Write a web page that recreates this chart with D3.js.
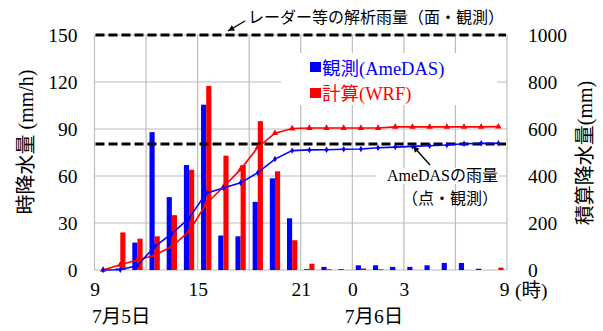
<!DOCTYPE html>
<html>
<head>
<meta charset="utf-8">
<script src="https://cdn.jsdelivr.net/npm/d3@7"></script>
<style>
  body { margin: 0; background: #fff; }
  text { font-family: "Liberation Serif", "Noto Sans CJK JP", serif; }
</style>
</head>
<body>
<svg id="chart" width="603" height="331"></svg>
<script>
// Hourly intervals from 7/5 09:00 to 7/6 09:00 (start hour of each interval)
const hourStart = [9, 10, 11, 12, 13, 14, 15, 16, 17, 18, 19, 20, 21, 22, 23, 0, 1, 2, 3, 4, 5, 6, 7, 8];

// Hourly rainfall (mm/h)
const observedHourly = [0, 1, 17.5, 88, 46.5, 67, 105.5, 22, 21.5, 43.5, 58.5, 33, 0.5, 2, 0.5, 3, 3, 2, 2, 3, 4.5, 4.5, 0.8, 0];
const computedHourly = [0, 24, 20, 21.5, 35, 64, 117.5, 73, 67, 95, 63, 19, 4, 0.5, 0, 1, 0.5, 0, 0, 0, 0, 0, 0, 1.5];

// Accumulated rainfall (mm)
const observedTotal = [0, 1, 19, 100, 155, 220, 327, 349, 371, 414, 472, 508, 511, 512, 514, 515, 520, 523, 526, 529, 532, 537, 539, 539];
const computedTotal = [0, 22, 43, 63, 100, 164, 282, 353, 428, 522, 582, 602, 604, 604, 604, 604, 604, 609, 609, 609, 609, 609, 609, 610];

// Reference totals (mm)
const radarAreaTotal = 1000;
const amedasPointTotal = 536;

// Axis ticks
const leftTicks = [0, 30, 60, 90, 120, 150];
const rightTicks = [0, 200, 400, 600, 800, 1000];
const xTickHours = [0, 6, 12, 15, 18, 24];
const xTickLabels = ["9", "15", "21", "0", "3", "9"];
const gridHours = [3, 6, 9, 12, 15, 18, 21];

const svg = d3.select("#chart");
const L = 94.5, R = 507, T = 35, B = 270;

const x = d3.scaleLinear().domain([0, 24]).range([L, R]);
const band = d3.scaleBand().domain(d3.range(hourStart.length)).range([L, R])
  .paddingInner(0.4).paddingOuter(0.2);
const sub = d3.scaleBand().domain(["obs", "calc"]).range([0, band.bandwidth()]);
const y = d3.scaleLinear().domain([0, 150]).range([B, T]);
const y2 = d3.scaleLinear().domain([0, 1000]).range([B, T]);
const cx = i => band(i) + band.bandwidth() / 2;

const gridColor = "#bcbcbc";

// Gridlines and frame
const grid = svg.append("g");
grid.selectAll("line.h").data(leftTicks.filter(v => v > 0)).join("line")
  .attr("x1", L).attr("x2", R).attr("y1", d => y(d)).attr("y2", d => y(d))
  .attr("stroke", gridColor).attr("stroke-width", 1);
grid.selectAll("line.v").data(gridHours).join("line")
  .attr("x1", d => x(d)).attr("x2", d => x(d)).attr("y1", T).attr("y2", B)
  .attr("stroke", gridColor).attr("stroke-width", 1.2);
grid.append("line").attr("x1", L).attr("x2", L).attr("y1", T).attr("y2", B)
  .attr("stroke", gridColor).attr("stroke-width", 1.2);
grid.append("line").attr("x1", R).attr("x2", R).attr("y1", T).attr("y2", B)
  .attr("stroke", gridColor).attr("stroke-width", 1.2);
grid.append("line").attr("x1", L).attr("x2", R).attr("y1", B).attr("y2", B)
  .attr("stroke", gridColor).attr("stroke-width", 1.2);

// Legend and label backgrounds
svg.append("rect").attr("x", 281).attr("y", 53).attr("width", 216).attr("height", 52).attr("fill", "#fff");
svg.append("rect").attr("x", 376).attr("y", 168).attr("width", 123).attr("height", 16).attr("fill", "#fff");

// Hourly bars
const bars = svg.append("g");
bars.selectAll("rect.obs").data(observedHourly).join("rect")
  .attr("x", (d, i) => band(i) + sub("obs")).attr("width", sub.bandwidth())
  .attr("y", d => y(d)).attr("height", d => B - y(d)).attr("fill", "#0000ff");
bars.selectAll("rect.calc").data(computedHourly).join("rect")
  .attr("x", (d, i) => band(i) + sub("calc")).attr("width", sub.bandwidth())
  .attr("y", d => y(d)).attr("height", d => B - y(d)).attr("fill", "#ff0000");

// Reference total lines
[radarAreaTotal, amedasPointTotal].forEach(v => {
  svg.append("line").attr("x1", L + 1).attr("x2", R - 1)
    .attr("y1", y2(v)).attr("y2", y2(v))
    .attr("stroke", "#000").attr("stroke-width", 3).attr("stroke-dasharray", "9,4");
});

// Accumulated rainfall lines
const line = d3.line().x((d, i) => cx(i)).y(d => y2(d));
svg.append("path").datum(computedTotal).attr("d", line)
  .attr("fill", "none").attr("stroke", "#ff0000").attr("stroke-width", 1.6);
svg.append("path").datum(observedTotal).attr("d", line)
  .attr("fill", "none").attr("stroke", "#0000ff").attr("stroke-width", 1.6);
svg.selectAll("path.tri").data(computedTotal).join("path")
  .attr("d", d3.symbol(d3.symbolTriangle, 18))
  .attr("transform", (d, i) => `translate(${cx(i)},${y2(d)})`).attr("fill", "#ff0000");
svg.selectAll("path.dia").data(observedTotal).join("path")
  .attr("d", d3.symbol(d3.symbolDiamond, 12))
  .attr("transform", (d, i) => `translate(${cx(i)},${y2(d)})`).attr("fill", "#0000ff");

// Axes
const tickFont = g => g.selectAll("text").attr("font-size", 19.5).attr("fill", "#000")
  .style("font-family", '"Liberation Serif", serif');
svg.append("g").attr("transform", `translate(${L},0)`)
  .call(d3.axisLeft(y).tickValues(leftTicks).tickSize(0).tickPadding(17))
  .call(g => g.select(".domain").remove()).call(tickFont);
svg.append("g").attr("transform", `translate(${R},0)`)
  .call(d3.axisRight(y2).tickValues(rightTicks).tickFormat(d3.format("d")).tickSize(0).tickPadding(21))
  .call(g => g.select(".domain").remove()).call(tickFont);
svg.append("g").attr("transform", `translate(0,${B})`)
  .call(d3.axisBottom(x).tickValues(xTickHours).tickFormat((d, i) => xTickLabels[i]).tickSize(0).tickPadding(12))
  .call(g => g.select(".domain").remove()).call(tickFont)
  .call(g => g.selectAll(".tick").filter(d => d === 24).select("text").attr("dx", -3));

svg.append("text").attr("x", 515).attr("y", 297).attr("font-size", 19.5).text("(時)");
svg.append("text").attr("x", 92).attr("y", 323).attr("font-size", 19.5).text("7月5日");
svg.append("text").attr("x", 374).attr("y", 323).attr("font-size", 19.5)
  .attr("text-anchor", "middle").text("7月6日");

// Axis titles
svg.append("text").attr("transform", "translate(26,142) rotate(-90)")
  .attr("text-anchor", "middle").attr("dy", "0.35em").attr("font-size", 20).text("時降水量 (mm/h)");
svg.append("text").attr("transform", "translate(585,153) rotate(-90)")
  .attr("text-anchor", "middle").attr("dy", "0.35em").attr("font-size", 20).text("積算降水量(mm)");

// Legend
svg.append("rect").attr("x", 310).attr("y", 62).attr("width", 11).attr("height", 10).attr("fill", "#0000ff");
svg.append("text").attr("x", 322).attr("y", 75).attr("font-size", 18.5).attr("fill", "#0000ff").text("観測(AmeDAS)");
svg.append("rect").attr("x", 310).attr("y", 88).attr("width", 11).attr("height", 10).attr("fill", "#ff0000");
svg.append("text").attr("x", 322).attr("y", 100).attr("font-size", 18.5).attr("fill", "#ff0000").text("計算(WRF)");

// Annotations
svg.append("text").attr("x", 248).attr("y", 23).attr("font-size", 16).text("レーダー等の解析雨量（面・観測）");
svg.append("text").attr("x", 498).attr("y", 181).attr("font-size", 16).attr("text-anchor", "end").text("AmeDASの雨量");
svg.append("text").attr("x", 498).attr("y", 204).attr("font-size", 16).attr("text-anchor", "end").text("（点・観測）");

const arrow = (x1, y1, x2, y2) => {
  svg.append("line").attr("x1", x1).attr("y1", y1).attr("x2", x2).attr("y2", y2)
    .attr("stroke", "#000").attr("stroke-width", 1.4);
  const a = Math.atan2(y2 - y1, x2 - x1), len = 7, w = 0.45;
  const p = [[x2, y2],
    [x2 - len * Math.cos(a - w), y2 - len * Math.sin(a - w)],
    [x2 - len * Math.cos(a + w), y2 - len * Math.sin(a + w)]];
  svg.append("path").attr("d", d3.line()(p) + "Z").attr("fill", "#000");
};
arrow(245, 21, 228, 31);
arrow(430, 165, 413, 146);
</script>
</body>
</html>
